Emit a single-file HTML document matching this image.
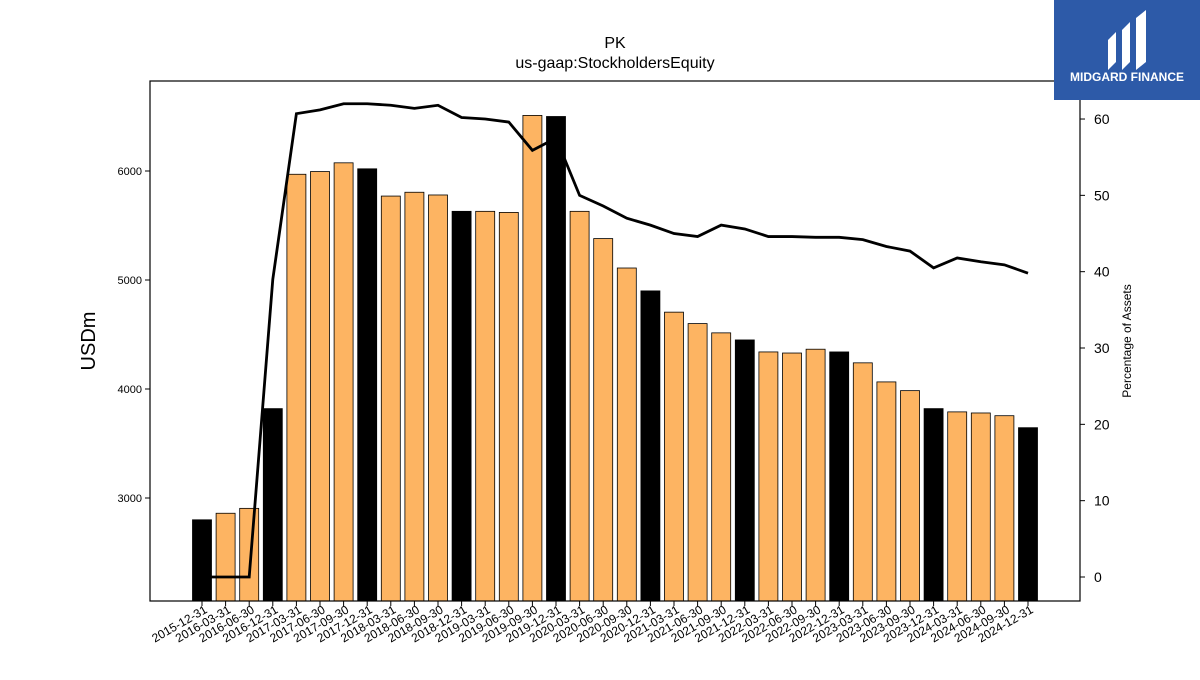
<!DOCTYPE html>
<html><head><meta charset="utf-8"><style>
body{margin:0;background:#fff;}
svg text{font-family:"Liberation Sans","DejaVu Sans",sans-serif;}
</style></head><body>
<svg id="chart" width="1200" height="675" xmlns="http://www.w3.org/2000/svg">
<rect width="1200" height="675" fill="#fff"/>
<text x="615" y="48" font-size="16" text-anchor="middle">PK</text>
<text x="615" y="68" font-size="16" text-anchor="middle">us-gaap:StockholdersEquity</text>
<g id="bars"></g>
<g id="line"></g>
<rect x="150" y="81" width="930" height="520" fill="none" stroke="#000" stroke-width="1.2"/>
<g id="axes"></g>
<text transform="translate(95,341) rotate(-90)" font-size="20" text-anchor="middle">USDm</text>
<text transform="translate(1131,341) rotate(-90)" font-size="12" text-anchor="middle">Percentage of Assets</text>
<g>
<rect x="1054" y="0" width="146" height="100" fill="#2d5aa8"/>
<path d="M1108 70 L1108 40 L1116 32 L1116 62 Z M1122 70 L1122 30 L1130 22 L1130 62 Z M1136 70 L1136 18 L1146 10 L1146 62 Z" fill="#fff"/>
<text x="1127" y="81" font-size="12" font-weight="bold" fill="#fff" text-anchor="middle">MIDGARD FINANCE</text>
</g>
</svg>
<script>
const categories=["2015-12-31","2016-03-31","2016-06-30","2016-12-31","2017-03-31","2017-06-30","2017-09-30","2017-12-31","2018-03-31","2018-06-30","2018-09-30","2018-12-31","2019-03-31","2019-06-30","2019-09-30","2019-12-31","2020-03-31","2020-06-30","2020-09-30","2020-12-31","2021-03-31","2021-06-30","2021-09-30","2021-12-31","2022-03-31","2022-06-30","2022-09-30","2022-12-31","2023-03-31","2023-06-30","2023-09-30","2023-12-31","2024-03-31","2024-06-30","2024-09-30","2024-12-31"];
const equity=[2800,2860,2905,3820,5970,5995,6075,6020,5770,5805,5780,5630,5630,5620,6510,6500,5630,5380,5110,4900,4705,4600,4515,4450,4340,4330,4365,4340,4240,4065,3985,3820,3790,3780,3755,3645];
const pctAssets=[0,0,0,39,60.7,61.2,62,62,61.8,61.4,61.8,60.2,60,59.6,55.9,57.5,50,48.6,47,46.1,45,44.6,46.1,45.6,44.6,44.6,44.5,44.5,44.2,43.3,42.7,40.5,41.8,41.3,40.9,39.8];
const leftTicks=[3000,4000,5000,6000];
const rightTicks=[0,10,20,30,40,50,60];
const NS="http://www.w3.org/2000/svg";
const x0=202,step=(1028-202)/35,bw=19,bottom=601;
const xs=i=>x0+i*step;
const yL=v=>498-(v-3000)*0.109;
const yR=v=>577-v*7.633;
function mk(tag,attrs,parent){const e=document.createElementNS(NS,tag);for(const k in attrs)e.setAttribute(k,attrs[k]);parent.appendChild(e);return e;}
const bars=document.getElementById('bars'),axes=document.getElementById('axes'),line=document.getElementById('line');
categories.forEach((c,i)=>{
  const y=yL(equity[i]);
  const r=mk('rect',{x:xs(i)-bw/2,y:y,width:bw,height:bottom-y,fill:c.endsWith('12-31')?'#000':'#fdb462',stroke:'#000','stroke-width':0.8},bars);
  
  
  mk('line',{x1:xs(i),x2:xs(i),y1:601,y2:606,stroke:'#000'},axes);
  const t=mk('text',{transform:`translate(${xs(i)+6},612) rotate(-30)`,'font-size':12,'text-anchor':'end'},axes);
  t.textContent=c;
  
  
});
leftTicks.forEach(v=>{
  mk('line',{x1:145,x2:150,y1:yL(v),y2:yL(v),stroke:'#000'},axes);
  const t=mk('text',{x:142,y:yL(v)+4,'font-size':11,'text-anchor':'end'},axes);
  t.textContent=v;
  
  
});
rightTicks.forEach(v=>{
  mk('line',{x1:1080,x2:1085,y1:yR(v),y2:yR(v),stroke:'#000'},axes);
  const t=mk('text',{x:1094,y:yR(v)+5,'font-size':14},axes);
  t.textContent=v;
  
  
});
const p=mk('polyline',{points:pctAssets.map((v,i)=>xs(i)+','+yR(v)).join(' '),fill:'none',stroke:'#000','stroke-width':2.8},line);


</script>
</body></html>
